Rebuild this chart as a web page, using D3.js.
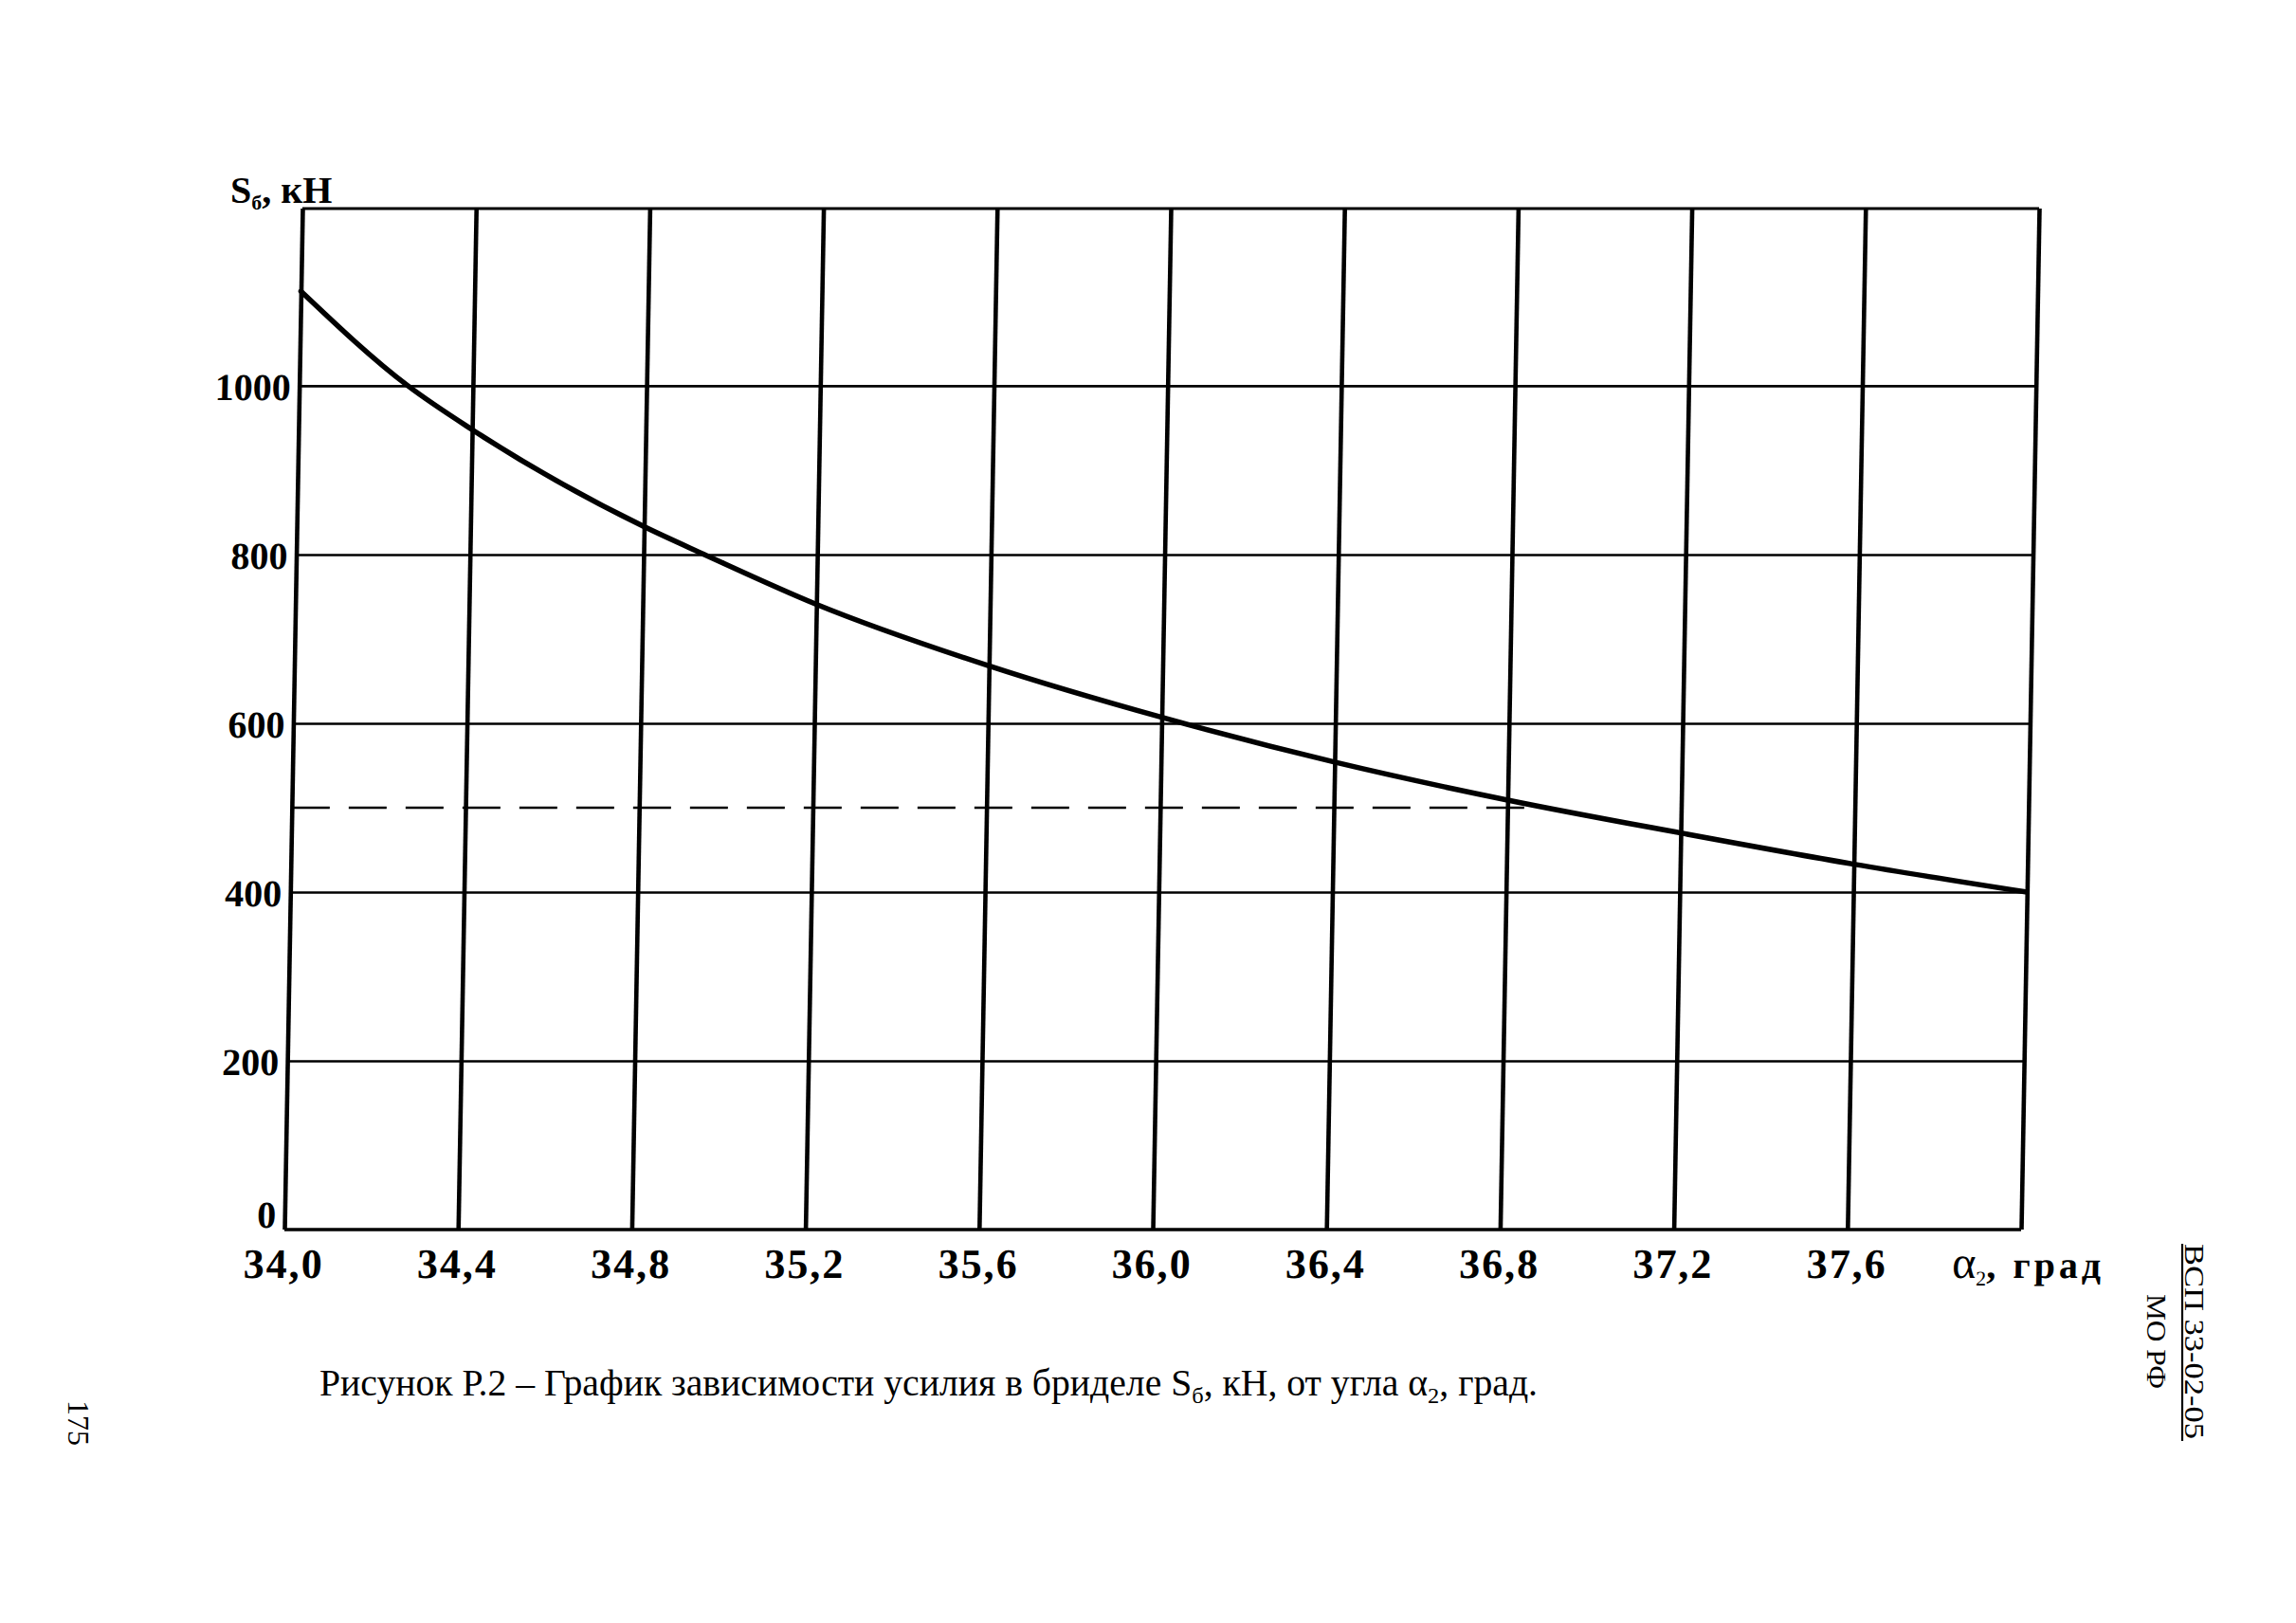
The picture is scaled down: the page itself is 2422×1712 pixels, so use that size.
<!DOCTYPE html>
<html>
<head>
<meta charset="utf-8">
<script src="https://cdn.jsdelivr.net/npm/d3@7"></script>
<style>
  html, body { margin: 0; padding: 0; background: #ffffff; }
  svg { display: block; }
</style>
</head>
<body>
<svg id="chart" width="2422" height="1712"></svg>
<script>
// ---------------- data ----------------
const gridAlpha = [34.0, 34.4, 34.8, 35.2, 35.6, 36.0, 36.4, 36.8, 37.2, 37.6, 38.0];
const xTickValues = [34.0, 34.4, 34.8, 35.2, 35.6, 36.0, 36.4, 36.8, 37.2, 37.6];
const xTickLabels = ["34,0", "34,4", "34,8", "35,2", "35,6", "36,0", "36,4", "36,8", "37,2", "37,6"];
const yTickValues = [0, 200, 400, 600, 800, 1000];
const yTickLabels = ["0", "200", "400", "600", "800", "1000"];
const curveAlpha = [34.0, 34.25, 34.4, 34.8, 34.94, 35.2, 35.6, 36.0, 36.4, 36.8, 37.2, 37.6, 38.0];
const curveS     = [1112, 1000,  948,  833,  800,   741,  668,  607,  554,  509,  470,  433,  400];
const limitS = 500;          // dashed reference level, кН
const limitAlphaEnd = 36.85; // dashed line ends where the curve reaches it

// ---------------- layout ----------------
const svg = d3.select("#chart");
const plotLeft = 319, plotTop = 220, plotW = 1832, plotH = 1077;
const skewDeg = -Math.atan(19 / plotH) * 180 / Math.PI; // scanned page is slightly slanted

const x = d3.scaleLinear().domain([34, 38]).range([0, plotW]);
const y = d3.scaleLinear().domain([0, 1210]).range([plotH, 0]);

const serif = "'Liberation Serif', 'DejaVu Serif', serif";

const g = svg.append("g")
  .attr("transform", `translate(${plotLeft},${plotTop}) skewX(${skewDeg})`);

// horizontal grid lines (thin)
g.append("g")
  .call(d3.axisLeft(y).tickValues(yTickValues.filter(v => v > 0)).tickSize(-plotW).tickFormat(""))
  .call(a => a.select(".domain").remove())
  .call(a => a.selectAll(".tick line").attr("stroke", "#000").attr("stroke-width", 2.6));

// top border
g.append("line")
  .attr("x1", x(34)).attr("x2", x(38)).attr("y1", 0).attr("y2", 0)
  .attr("stroke", "#000").attr("stroke-width", 3.2);

// bottom border (value 0)
g.append("line")
  .attr("x1", x(34)).attr("x2", x(38)).attr("y1", y(0)).attr("y2", y(0))
  .attr("stroke", "#000").attr("stroke-width", 3.4);

// vertical grid lines (thick)
g.append("g")
  .attr("transform", `translate(0,${plotH})`)
  .call(d3.axisBottom(x).tickValues(gridAlpha).tickSize(-plotH).tickFormat(""))
  .call(a => a.select(".domain").remove())
  .call(a => a.selectAll(".tick line").attr("stroke", "#000").attr("stroke-width", 4.6));

// dashed reference line
g.append("line")
  .attr("x1", x(34)).attr("x2", x(limitAlphaEnd))
  .attr("y1", y(limitS)).attr("y2", y(limitS))
  .attr("stroke", "#000").attr("stroke-width", 2.6)
  .attr("stroke-dasharray", "40 20");

// curve S = f(alpha)
const pts = curveAlpha.map((a, i) => [a, curveS[i]]);
g.append("path")
  .datum(pts)
  .attr("fill", "none")
  .attr("stroke", "#000")
  .attr("stroke-width", 5.5)
  .attr("stroke-linecap", "round")
  .attr("d", d3.line().x(d => x(d[0])).y(d => y(d[1])).curve(d3.curveMonotoneX));

// x tick labels
g.append("g").selectAll("text")
  .data(xTickValues)
  .join("text")
  .attr("x", d => x(d))
  .attr("y", plotH + 51)
  .attr("text-anchor", "middle")
  .attr("font-family", serif)
  .attr("font-weight", "bold")
  .attr("font-size", 44)
  .attr("letter-spacing", 2)
  .attr("fill", "#000")
  .text((d, i) => xTickLabels[i]);

// x axis name
const xName = g.append("text")
  .attr("x", x(38) - 72)
  .attr("y", plotH + 51)
  .attr("font-family", serif)
  .attr("fill", "#000");
xName.append("tspan").attr("font-size", 48).text("α");
xName.append("tspan").attr("font-size", 22).attr("dy", 8).text("2");
xName.append("tspan").attr("font-size", 40).attr("dy", -8).attr("font-weight", "bold")
  .attr("letter-spacing", 4).text(", град");

// y tick labels
g.append("g").selectAll("text")
  .data(yTickValues)
  .join("text")
  .attr("x", -9)
  .attr("y", d => d === 0 ? y(d) - 2 : y(d) + 15)
  .attr("text-anchor", "end")
  .attr("font-family", serif)
  .attr("font-weight", "bold")
  .attr("font-size", 40)
  .attr("fill", "#000")
  .text((d, i) => yTickLabels[i]);

// y axis name
const yName = svg.append("text")
  .attr("x", 243).attr("y", 214)
  .attr("font-family", serif)
  .attr("font-weight", "bold")
  .attr("font-size", 40)
  .attr("fill", "#000");
yName.append("tspan").text("S");
yName.append("tspan").attr("font-size", 22).attr("dy", 7).text("б");
yName.append("tspan").attr("dy", -7).text(", кН");

// caption
const cap = svg.append("text")
  .attr("x", 337).attr("y", 1472)
  .attr("font-family", serif)
  .attr("font-size", 39)
  .attr("fill", "#000")
  .attr("textLength", 1285)
  .attr("lengthAdjust", "spacingAndGlyphs");
cap.append("tspan").text("Рисунок Р.2 – График зависимости усилия в бриделе S");
cap.append("tspan").attr("font-size", 24).attr("dy", 8).text("б");
cap.append("tspan").attr("dy", -8).text(", кН, от угла  α");
cap.append("tspan").attr("font-size", 24).attr("dy", 8).text("2");
cap.append("tspan").attr("dy", -8).text(", град.");

// page number (rotated)
svg.append("text")
  .attr("transform", "translate(72,1477) rotate(90)")
  .attr("font-family", serif)
  .attr("font-size", 32)
  .attr("fill", "#000")
  .text("175");

// document designation (rotated)
svg.append("text")
  .attr("transform", "translate(2305,1312) rotate(90)")
  .attr("font-family", serif)
  .attr("font-size", 30)
  .attr("fill", "#000")
  .attr("textLength", 206)
  .attr("lengthAdjust", "spacingAndGlyphs")
  .text("ВСП 33-02-05");
svg.append("line")
  .attr("x1", 2302).attr("x2", 2302).attr("y1", 1312).attr("y2", 1520)
  .attr("stroke", "#000").attr("stroke-width", 2.2);
svg.append("text")
  .attr("transform", "translate(2265,1365) rotate(90)")
  .attr("font-family", serif)
  .attr("font-size", 30)
  .attr("fill", "#000")
  .attr("textLength", 100)
  .attr("lengthAdjust", "spacingAndGlyphs")
  .text("МО РФ");
</script>
</body>
</html>
